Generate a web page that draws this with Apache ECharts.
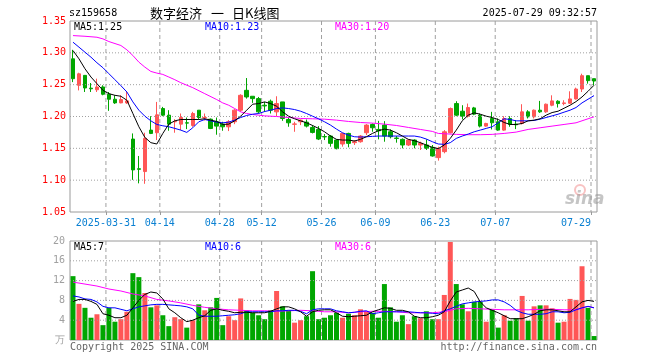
<!DOCTYPE html>
<html><head><meta charset="utf-8">
<script src="https://cdn.jsdelivr.net/npm/echarts@6/dist/echarts.min.js"></script>
<style>html,body{margin:0;padding:0;background:#fff}#c{width:660px;height:360px}</style>
</head><body><div id="c"></div>
<script>
var dates = ['03-21','03-24','03-25','03-26','03-27','03-28','03-31','04-01','04-02','04-03',
'04-07','04-08','04-09','04-10','04-11','04-14','04-15','04-16','04-17','04-18',
'04-21','04-22','04-23','04-24','04-25','04-28','04-29','04-30','05-06','05-07',
'05-08','05-09','05-12','05-13','05-14','05-15','05-16','05-19','05-20','05-21',
'05-22','05-23','05-26','05-27','05-28','05-29','05-30','06-03','06-04','06-05',
'06-06','06-09','06-10','06-11','06-12','06-13','06-16','06-17','06-18','06-19',
'06-20','06-23','06-24','06-25','06-26','06-27','06-30','07-01','07-02','07-03',
'07-04','07-07','07-08','07-09','07-10','07-11','07-14','07-15','07-16','07-17',
'07-18','07-21','07-22','07-23','07-24','07-25','07-28','07-29'];
var tickDates = ['03-31','04-14','04-28','05-12','05-26','06-09','06-23','07-07','07-29'];
var tickTexts = ['2025-03-31','04-14','04-28','05-12','05-26','06-09','06-23','07-07','07-29'];

var opens = [1.2906,1.2490,1.2646,1.2445,1.2420,1.2464,1.2349,1.2271,1.2214,1.2214,
1.1646,1.1180,1.1135,1.1786,1.1745,1.2125,1.2021,1.1917,1.1880,1.1901,
1.1859,1.2099,1.1979,1.1958,1.1917,1.1880,1.1838,1.1917,1.2099,1.2411,
1.2318,1.2281,1.2177,1.2240,1.2073,1.2229,1.1953,1.1878,1.1917,1.1911,
1.1828,1.1797,1.1685,1.1693,1.1630,1.1568,1.1734,1.1589,1.1604,1.1745,
1.1875,1.1797,1.1865,1.1760,1.1661,1.1641,1.1552,1.1630,1.1552,1.1552,
1.1516,1.1354,1.1448,1.1745,1.2203,1.2083,1.2005,1.2135,1.2021,1.1849,
1.1969,1.1917,1.1786,1.1969,1.1880,1.1891,1.2073,1.1995,1.2099,1.2073,
1.2177,1.2240,1.2203,1.2208,1.2276,1.2432,1.2641,1.2594];
var closes = [1.2594,1.2670,1.2448,1.2435,1.2464,1.2349,1.2271,1.2214,1.2266,1.2245,
1.1161,1.1170,1.1656,1.1734,1.2026,1.2021,1.1880,1.1922,1.1984,1.1896,
1.2047,1.1984,1.1984,1.1812,1.1849,1.1838,1.1917,1.2099,1.2333,1.2307,
1.2281,1.2073,1.2166,1.2099,1.2203,1.1969,1.1901,1.1883,1.1943,1.1849,
1.1750,1.1646,1.1680,1.1578,1.1495,1.1734,1.1578,1.1604,1.1693,1.1865,
1.1823,1.1776,1.1693,1.1682,1.1656,1.1552,1.1630,1.1552,1.1578,1.1500,
1.1380,1.1500,1.1760,1.2125,1.2021,1.2005,1.2141,1.2037,1.1849,1.1891,
1.1901,1.1786,1.1969,1.1875,1.1870,1.2073,1.1995,1.2099,1.2073,1.2193,
1.2245,1.2203,1.2214,1.2276,1.2432,1.2641,1.2563,1.2557];
var lows = [1.2540,1.2410,1.2385,1.2385,1.2385,1.2333,1.2089,1.2198,1.2208,1.2198,
1.1005,1.0950,1.0943,1.1724,1.1630,1.2005,1.1776,1.1745,1.1786,1.1802,
1.1839,1.1953,1.1937,1.1802,1.1714,1.1776,1.1771,1.1880,1.2073,1.2281,
1.2214,1.2047,1.2073,1.2047,1.2005,1.1932,1.1839,1.1760,1.1865,1.1828,
1.1734,1.1630,1.1630,1.1526,1.1484,1.1526,1.1516,1.1552,1.1589,1.1708,
1.1760,1.1641,1.1604,1.1656,1.1589,1.1500,1.1536,1.1500,1.1474,1.1474,
1.1370,1.1307,1.1422,1.1734,1.2005,1.1953,1.1984,1.2021,1.1828,1.1839,
1.1797,1.1776,1.1776,1.1839,1.1802,1.1875,1.1969,1.1969,1.2057,1.2057,
1.2161,1.2141,1.2177,1.2203,1.2266,1.2385,1.2516,1.2490];
var highs = [1.3047,1.2687,1.2646,1.2526,1.2594,1.2490,1.2385,1.2333,1.2333,1.2396,
1.1734,1.1380,1.1745,1.2005,1.2229,1.2151,1.2099,1.1958,1.2047,1.1984,
1.2073,1.2099,1.2047,1.1969,1.1984,1.1917,1.1943,1.2115,1.2349,1.2604,
1.2318,1.2307,1.2229,1.2266,1.2318,1.2229,1.1984,1.1917,1.1953,1.1953,
1.1865,1.1849,1.1724,1.1708,1.1641,1.1745,1.1745,1.1630,1.1708,1.1880,
1.1891,1.1932,1.1927,1.1797,1.1693,1.1656,1.1641,1.1641,1.1604,1.1641,
1.1552,1.1526,1.1786,1.2141,1.2240,1.2177,1.2203,1.2151,1.2047,1.1901,
1.2073,1.1969,1.2005,1.2005,1.1943,1.2193,1.2099,1.2109,1.2245,1.2203,
1.2333,1.2255,1.2255,1.2396,1.2453,1.2672,1.2641,1.2594];

var ma5 = [1.3036,1.2906,1.2750,1.2620,1.2516,1.2411,1.2359,1.2333,1.2318,1.2255,
1.2047,1.1839,1.1672,1.1589,1.1568,1.1734,1.1880,1.1932,1.1953,1.1953,
1.1953,1.1953,1.1964,1.1943,1.1922,1.1875,1.1880,1.1932,1.2005,1.2099,
1.2193,1.2203,1.2229,1.2203,1.2161,1.2073,1.2005,1.1964,1.1932,1.1901,
1.1859,1.1813,1.1760,1.1693,1.1641,1.1630,1.1630,1.1615,1.1641,1.1682,
1.1734,1.1776,1.1802,1.1786,1.1745,1.1693,1.1641,1.1620,1.1589,1.1552,
1.1516,1.1495,1.1552,1.1656,1.1786,1.1932,1.2021,1.2057,1.2036,1.2005,
1.1984,1.1953,1.1906,1.1875,1.1875,1.1891,1.1932,1.1943,1.1964,1.2021,
1.2062,1.2083,1.2130,1.2177,1.2234,1.2307,1.2396,1.2490];
var ma10 = [1.3167,1.3089,1.3010,1.2932,1.2844,1.2766,1.2672,1.2578,1.2484,1.2385,
1.2229,1.2099,1.2005,1.1932,1.1875,1.1854,1.1839,1.1813,1.1786,1.1750,
1.1823,1.1917,1.1953,1.1932,1.1911,1.1901,1.1911,1.1943,1.1984,1.2016,
1.2036,1.2047,1.2078,1.2099,1.2125,1.2135,1.2125,1.2109,1.2083,1.2047,
1.2005,1.1964,1.1917,1.1865,1.1802,1.1745,1.1708,1.1682,1.1677,1.1682,
1.1688,1.1693,1.1693,1.1693,1.1693,1.1693,1.1693,1.1693,1.1677,1.1646,
1.1604,1.1568,1.1563,1.1589,1.1656,1.1693,1.1724,1.1760,1.1786,1.1813,
1.1839,1.1901,1.1964,1.1953,1.1932,1.1932,1.1932,1.1938,1.1958,1.1984,
1.2010,1.2036,1.2068,1.2099,1.2141,1.2214,1.2271,1.2328];
var ma30 = [1.3271,null,1.3260,null,1.3245,1.3219,1.3177,null,1.3115,1.3047,
1.2958,1.2854,1.2776,1.2708,1.2682,1.2661,1.2620,1.2578,1.2531,null,
1.2453,null,1.2359,null,1.2266,1.2214,1.2177,1.2125,1.2073,1.2047,
1.2031,1.2021,1.2010,null,1.2000,null,1.1984,null,1.1969,null,
1.1964,null,1.1958,null,1.1943,null,1.1922,null,1.1906,null,
1.1896,null,1.1880,null,1.1859,null,1.1828,null,1.1797,null,
1.1766,1.1734,1.1729,null,1.1719,null,1.1714,null,1.1714,null,
1.1719,null,1.1734,null,1.1755,null,1.1797,null,1.1823,null,
1.1849,null,1.1875,null,1.1901,null,1.1964,1.1995];

var volumes = [12.9,7.3,6.5,4.5,5.2,3.0,6.5,3.7,4.2,5.7,
13.5,12.7,9.5,6.6,7.0,5.0,2.8,4.6,4.2,2.5,
4.0,7.2,6.0,6.6,8.5,3.0,4.8,4.0,8.4,6.0,
5.5,5.0,4.2,6.0,9.9,6.8,6.0,3.5,4.0,4.8,
13.9,4.2,4.5,5.0,5.5,4.5,5.3,5.0,6.2,5.7,
5.5,4.5,11.3,6.6,3.7,5.0,3.2,4.8,4.4,5.8,
4.2,4.2,9.1,19.8,11.3,7.2,5.8,7.7,7.7,3.7,
6.2,2.5,5.0,3.9,4.4,8.9,3.9,6.8,7.0,7.0,
6.4,3.5,3.7,8.3,8.1,14.9,6.5,0.8];
var vma5 = [7.8,8.2,8.2,7.8,7.2,5.3,5.0,4.5,4.5,5.0,
6.5,8.0,9.2,9.7,9.5,8.3,6.3,5.5,4.5,3.7,
4.0,4.5,4.9,6.0,6.3,6.0,5.8,5.5,5.6,5.6,
5.5,5.5,5.5,5.8,6.3,6.7,6.7,6.3,5.7,4.8,
5.7,6.0,6.1,6.1,5.5,4.8,4.7,4.8,4.9,5.0,
5.7,6.1,6.5,6.4,6.0,6.0,5.7,4.8,4.5,4.5,
4.7,5.0,5.7,7.9,9.7,10.1,10.5,9.8,7.7,6.5,
6.0,5.5,4.9,4.3,4.3,4.3,4.7,5.2,5.9,6.1,
6.1,5.9,5.7,5.7,6.7,7.7,8.0,7.8];
var vma10 = [8.9,8.7,8.3,8.2,7.7,6.8,6.5,6.5,6.2,5.9,
6.3,6.7,6.9,7.1,7.2,7.2,7.1,7.0,6.9,6.7,
6.3,5.0,4.8,4.8,4.8,4.9,5.0,5.1,5.3,5.7,
5.7,5.7,5.7,5.7,5.9,5.9,6.0,6.0,5.8,5.3,
6.1,6.3,6.3,6.3,5.9,5.7,5.5,5.6,5.8,5.9,
5.3,5.5,5.7,5.7,5.7,5.7,5.7,5.6,5.5,5.5,
5.4,5.3,5.9,6.3,6.8,7.3,7.5,7.7,7.8,7.9,
8.1,8.1,7.7,7.0,6.0,5.5,5.2,5.2,5.2,5.3,
5.7,5.7,5.5,5.6,6.1,6.5,6.8,6.5];
var vma30 = [11.7,null,11.3,null,10.9,null,10.3,null,9.9,null,
9.3,null,8.9,null,8.2,null,7.9,null,7.5,null,
7.0,null,6.6,null,6.3,null,6.1,null,6.0,null,
5.9,null,5.9,null,5.8,null,5.9,null,6.0,null,
5.9,null,5.7,null,5.7,null,5.5,null,5.7,null,
5.8,null,5.8,null,5.7,null,5.5,null,5.5,null,
5.5,null,5.7,null,6.3,null,6.4,null,6.3,null,
6.2,null,6.1,null,6.1,null,6.1,null,6.2,null,
6.2,null,6.1,null,6.1,null,6.8,6.5];

var priceTicks = [1.05, 1.35, 0.05];
var priceGridValues = [1.10, 1.15, 1.20, 1.25, 1.30];
var volTicks = [0, 20, 4];
var volGridValues = [4, 8, 12, 16];

var RED = '#ff5656', GREEN = '#00a600', GRIDC = '#a0a0a0';
var MONO = '"DejaVu Sans Mono", "Liberation Mono", monospace';
var candleData = opens.map(function (o, i) { return [o, closes[i], lows[i], highs[i]]; });
var volData = volumes.map(function (v, i) {
  return { value: v, itemStyle: { color: closes[i] >= opens[i] ? RED : GREEN } };
});
function pairs(arr) {
  var out = [];
  arr.forEach(function (v, i) { if (v !== null) out.push([i, v]); });
  return out;
}
var boundaries = dates.concat(['']);
var tickIdx = tickDates.map(function (d) { return boundaries.indexOf(d); });
function isTick(idx, val) { return tickDates.indexOf(val) >= 0; }

// grid lines drawn as series on the boundary axes (through the library's scales)
function gridSeries(xi, yi, yMin, yMax, hVals) {
  var s = [];
  tickIdx.forEach(function (k) {
    s.push({ type: 'line', xAxisIndex: xi, yAxisIndex: yi, data: [[k, yMax], [k, yMin]], showSymbol: false, silent: true,
      lineStyle: { color: GRIDC, width: 1, type: [4, 3] } });
  });
  hVals.forEach(function (v) {
    s.push({ type: 'line', xAxisIndex: xi, yAxisIndex: yi, data: [[0, v], [boundaries.length - 1, v]], showSymbol: false, silent: true,
      lineStyle: { color: GRIDC, width: 1, type: [1, 2] } });
  });
  return s;
}

var chart = echarts.init(document.getElementById('c'), null, { renderer: 'canvas' });
function txt(x, y, s, color, font, align) {
  return { type: 'text', x: x, y: y, silent: true, z: 100,
    style: { text: s, fill: color, font: font, textAlign: align || 'left', textVerticalAlign: 'middle', verticalAlign: 'middle' } };
}
var hidden = { axisLine: { show: false }, axisTick: { show: false }, axisLabel: { show: false }, splitLine: { show: false } };

var series = []
  .concat(gridSeries(2, 0, priceTicks[0], priceTicks[1], priceGridValues))
  .concat(gridSeries(3, 1, volTicks[0], volTicks[1], volGridValues))
  .concat([
    { type: 'candlestick', xAxisIndex: 0, yAxisIndex: 0, data: candleData, barWidth: 4, silent: true,
      itemStyle: { color: RED, color0: GREEN, borderColor: RED, borderColor0: GREEN, borderWidth: 1 } },
    { type: 'line', xAxisIndex: 0, yAxisIndex: 0, data: pairs(ma30), showSymbol: false, silent: true,
      lineStyle: { color: '#ff00ff', width: 1 } },
    { type: 'line', xAxisIndex: 0, yAxisIndex: 0, data: ma10, showSymbol: false, silent: true,
      lineStyle: { color: '#0000ff', width: 1 } },
    { type: 'line', xAxisIndex: 0, yAxisIndex: 0, data: ma5, showSymbol: false, silent: true,
      lineStyle: { color: '#000000', width: 1 } },
    { type: 'bar', xAxisIndex: 1, yAxisIndex: 1, data: volData, barWidth: 5, silent: true },
    { type: 'line', xAxisIndex: 1, yAxisIndex: 1, data: pairs(vma30), showSymbol: false, silent: true,
      lineStyle: { color: '#ff00ff', width: 1 } },
    { type: 'line', xAxisIndex: 1, yAxisIndex: 1, data: vma10, showSymbol: false, silent: true,
      lineStyle: { color: '#0000ff', width: 1 } },
    { type: 'line', xAxisIndex: 1, yAxisIndex: 1, data: vma5, showSymbol: false, silent: true,
      lineStyle: { color: '#000000', width: 1 } }
  ]);

chart.setOption({
  animation: false,
  backgroundColor: '#ffffff',
  grid: [
    { left: 70, top: 21, width: 527, height: 191, show: true, borderColor: '#9a9a9a', borderWidth: 1, backgroundColor: 'transparent' },
    { left: 70, top: 241, width: 527, height: 99, show: true, borderColor: '#9a9a9a', borderWidth: 1, backgroundColor: 'transparent' }
  ],
  xAxis: [
    Object.assign({ type: 'category', gridIndex: 0, data: dates, boundaryGap: true, position: 'top' }, hidden),
    Object.assign({ type: 'category', gridIndex: 1, data: dates, boundaryGap: true, position: 'top' }, hidden),
    { type: 'category', gridIndex: 0, data: boundaries, boundaryGap: false, position: 'bottom', min: 0, max: boundaries.length - 1,
      axisLine: { show: false },
      axisTick: { show: true, interval: isTick, length: 3, lineStyle: { color: '#9a9a9a' } },
      axisLabel: { show: true, interval: isTick, margin: 6, color: '#0a80d2', fontFamily: MONO, fontSize: 10,
        formatter: function (v) {
          var t = tickTexts[tickDates.indexOf(v)];
          return v === '07-29' ? '{r|' + t + '}' : t;
        },
        rich: { r: { padding: [0, 30, 0, 0], color: '#0a80d2', fontFamily: MONO, fontSize: 10 } } },
      splitLine: { show: false } },
    Object.assign({ type: 'category', gridIndex: 1, data: boundaries, boundaryGap: false, position: 'bottom', min: 0, max: boundaries.length - 1 }, hidden)
  ],
  yAxis: [
    { type: 'value', gridIndex: 0, min: priceTicks[0], max: priceTicks[1], interval: priceTicks[2],
      axisLine: { show: false }, axisTick: { show: false },
      axisLabel: { color: '#ff0000', fontFamily: MONO, fontSize: 10, margin: 4, formatter: function (v) { return v.toFixed(2); } },
      splitLine: { show: false } },
    { type: 'value', gridIndex: 1, min: volTicks[0], max: volTicks[1], interval: volTicks[2],
      axisLine: { show: false }, axisTick: { show: false },
      axisLabel: { color: '#a0a0a0', fontFamily: MONO, fontSize: 10, margin: 5,
        formatter: function (v) { return v === 0 ? '万' : String(v); } },
      splitLine: { show: false } }
  ],
  series: series,
  graphic: [
    txt(69, 13, 'sz159658', '#000', '10px ' + MONO),
    txt(150, 13, '数字经济', '#000', '13px "Noto Sans CJK SC"'),
    txt(211, 13, '一', '#000', '13px "Noto Sans CJK SC"'),
    txt(232, 13, '日K线图', '#000', '13px "Noto Sans CJK SC"'),
    txt(597, 13, '2025-07-29 09:32:57', '#000', '10px ' + MONO, 'right'),
    txt(74, 27, 'MA5:1.25', '#000', '10px ' + MONO),
    txt(205, 27, 'MA10:1.23', '#0000ff', '10px ' + MONO),
    txt(335, 27, 'MA30:1.20', '#ff00ff', '10px ' + MONO),
    txt(74, 247, 'MA5:7', '#000', '10px ' + MONO),
    txt(205, 247, 'MA10:6', '#0000ff', '10px ' + MONO),
    txt(335, 247, 'MA30:6', '#ff00ff', '10px ' + MONO),
    txt(70, 347, 'Copyright 2025 SINA.COM', '#666', '10px ' + MONO),
    txt(597, 347, 'http://finance.sina.com.cn', '#666', '10px ' + MONO, 'right'),
    { type: 'circle', shape: { cx: 580, cy: 190, r: 5 }, silent: true, z: 1,
      style: { fill: 'none', stroke: 'rgba(240,120,120,0.45)', lineWidth: 2 } },
    txt(565, 200, 'sina', 'rgba(150,150,150,0.55)', 'italic bold 17px "DejaVu Sans"')
  ]
});
</script></body></html>
